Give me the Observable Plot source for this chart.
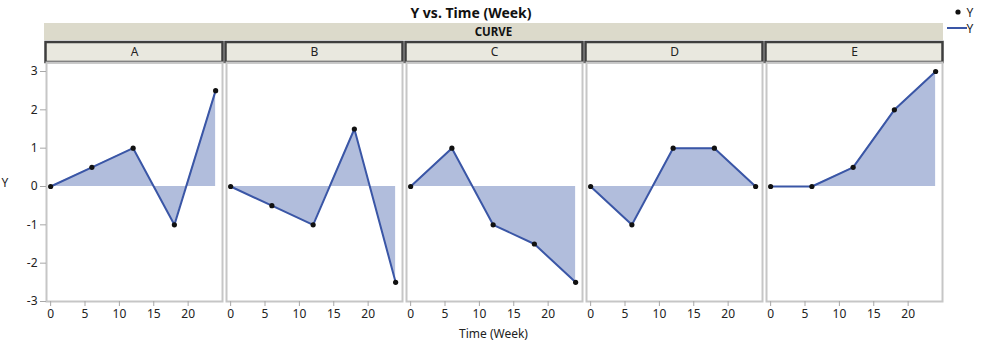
<!DOCTYPE html>
<html>
<head>
<meta charset="utf-8">
<script src="https://cdn.jsdelivr.net/npm/d3@7"></script>
<script src="https://cdn.jsdelivr.net/npm/@observablehq/plot@0.6"></script>
<style>
  html, body { margin: 0; padding: 0; background: #fff; }
  #chart { width: 998px; height: 349px; }
</style>
</head>
<body>
<div id="chart"></div>
<script>
// ---- data ----
const weeks = [0, 6, 12, 18, 24];
const curves = ["A", "B", "C", "D", "E"];
const yA = [0, 0.5, 1, -1, 2.5];
const yB = [0, -0.5, -1, 1.5, -2.5];
const yC = [0, 1, -1, -1.5, -2.5];
const yD = [0, -1, 1, 1, 0];
const yE = [0, 0, 0.5, 2, 3];
const xTicks = [0, 5, 10, 15, 20];
const yTicks = [-3, -2, -1, 0, 1, 2, 3];
const title = "Y vs. Time (Week)";
const groupLabel = "CURVE";
const xLabel = "Time (Week)";
const yLabel = "Y";

const seriesByCurve = {A: yA, B: yB, C: yC, D: yD, E: yE};
const rows = curves.flatMap(c => weeks.map((w, i) => ({curve: c, week: w, y: seriesByCurve[c][i]})));
const headers = curves.map(c => ({curve: c}));

const W = 998, H = 349;
const mL = 44, mR = 55, mT = 62, mB = 48;
const font = "'Noto Sans', 'Open Sans', sans-serif";
const lineColor = "#3a56a6";
const areaColor = "#b1bddc";
const xDomain = [-0.6, 25];

const plot = Plot.plot({
  width: W, height: H,
  marginLeft: mL, marginRight: mR, marginTop: mT, marginBottom: mB,
  style: {fontFamily: font, fontSize: "12px", color: "#222", background: "#fff"},
  fx: {domain: curves, paddingInner: 0.025, paddingOuter: 0, axis: null, label: null},
  x: {domain: xDomain, label: null},
  y: {domain: [-3, 3], insetTop: 9, label: null},
  facet: {data: rows, x: "curve"},
  marks: [
    // facet header boxes
    Plot.frame({
      stroke: "none",
      render: (index, scales, values, dims) => {
        const x0 = scales.x(xDomain[0]), x1 = scales.x(xDomain[1]);
        const g = d3.create("svg:g");
        g.append("rect")
          .attr("x", x0 - 0.5).attr("y", dims.marginTop - 20)
          .attr("width", x1 - x0 + 1).attr("height", 20)
          .attr("fill", "#e9e8df").attr("stroke", "#3e3e3e").attr("stroke-width", 2.5);
        return g.node();
      }
    }),
    Plot.text(headers, {fx: "curve", text: "curve", frameAnchor: "top", lineAnchor: "middle", dy: -10, fill: "#222", fontSize: 12}),
    Plot.frame({stroke: "#c6c6c6", strokeWidth: 2}),
    Plot.areaY(rows, {x: "week", y: "y", fill: areaColor, fillOpacity: 1}),
    Plot.lineY(rows, {x: "week", y: "y", stroke: lineColor, strokeWidth: 2}),
    Plot.dot(rows, {x: "week", y: "y", r: 2.6, fill: "#111", stroke: "none"}),
    Plot.axisX({ticks: xTicks, tickSize: 5, tickPadding: 3, label: null, stroke: "#a8a8a8", fill: "#222"}),
    Plot.axisY({ticks: yTicks, tickSize: 6, tickPadding: 3, label: null, stroke: "#a8a8a8", fill: "#222", tickFormat: d => String(d)})
  ]
});

document.getElementById("chart").appendChild(plot);

// ---- outer decorations: title, group band, axis labels, legend ----
const svg = d3.select(plot.tagName.toLowerCase() === "svg" ? plot : plot.querySelector("svg"));
const deco = svg.append("g").attr("font-family", font);

deco.append("rect").attr("x", mL).attr("y", 23).attr("width", W - mL - mR).attr("height", 17).attr("fill", "#dcdacb");
deco.append("text").attr("x", (mL + W - mR) / 2).attr("y", 31.5).attr("text-anchor", "middle")
  .attr("dominant-baseline", "central").attr("font-weight", "bold").attr("font-size", 11.5).attr("fill", "#111").text(groupLabel);

deco.append("text").attr("x", 471).attr("y", 12).attr("text-anchor", "middle")
  .attr("dominant-baseline", "central").attr("font-weight", "bold").attr("font-size", 14).attr("fill", "#111").text(title);

deco.append("text").attr("x", (mL + W - mR) / 2).attr("y", 333).attr("text-anchor", "middle")
  .attr("dominant-baseline", "central").attr("font-size", 12).attr("fill", "#222").text(xLabel);

deco.append("text").attr("x", 5).attr("y", 182).attr("text-anchor", "middle")
  .attr("dominant-baseline", "central").attr("font-size", 12).attr("fill", "#222").text(yLabel);

// legend
deco.append("circle").attr("cx", 958).attr("cy", 12).attr("r", 2.6).attr("fill", "#111");
deco.append("text").attr("x", 970).attr("y", 12).attr("dominant-baseline", "central").attr("font-size", 12).attr("fill", "#222").text(yLabel);
deco.append("line").attr("x1", 947).attr("x2", 967).attr("y1", 28).attr("y2", 28).attr("stroke", lineColor).attr("stroke-width", 2);
deco.append("text").attr("x", 970).attr("y", 28).attr("dominant-baseline", "central").attr("font-size", 12).attr("fill", "#222").text(yLabel);
</script>
</body>
</html>
